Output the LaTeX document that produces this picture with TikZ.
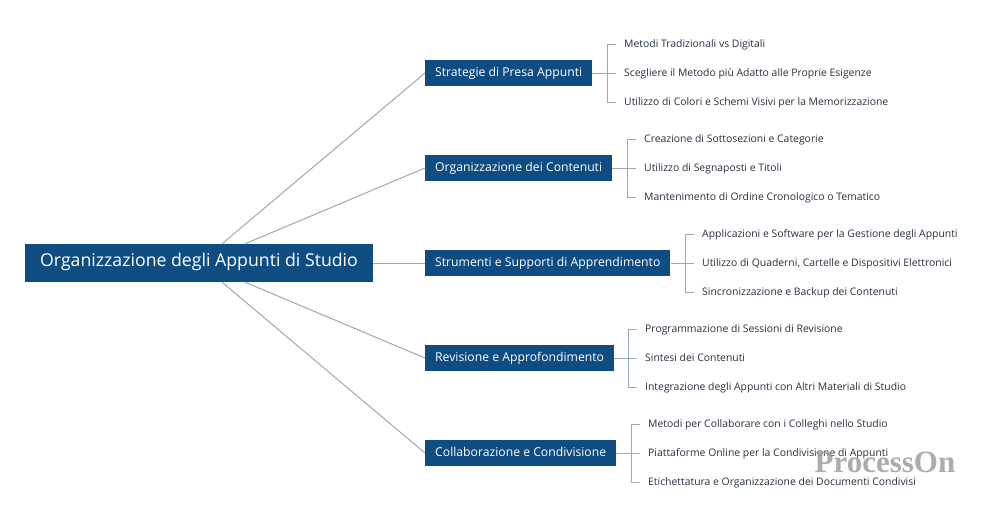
\documentclass[tikz,border=0pt]{standalone}
\usepackage{fontspec}
\setmainfont{Open Sans}
\newfontfamily\wmfont{Liberation Serif}
\definecolor{nodeblue}{RGB}{15,76,129}
\definecolor{linkgray}{RGB}{150,170,184}
\definecolor{leaftext}{RGB}{40,50,64}
\tikzset{
  rootbox/.style={fill=nodeblue, text=white, minimum height=38pt, minimum width=348pt, inner xsep=14pt, text height=0.7em, text depth=0pt, font=\fontsize{17.7}{19}\selectfont},
  topicbox/.style={fill=nodeblue, text=white, anchor=west, minimum height=26pt, inner xsep=10pt, text height=0.7em, text depth=0pt, font=\fontsize{12.2}{14}\selectfont},
  leaf/.style={anchor=west, inner xsep=8pt, inner ysep=2pt, text height=0.7em, text depth=0pt, text=leaftext, font=\fontsize{10.4}{12}\selectfont},
  link/.style={draw=linkgray, line width=1pt}
}
\begin{document}
\begin{tikzpicture}[x=1pt, y=-1pt]
\useasboundingbox (0, 0) rectangle (1000, 522);
\fill [white] (0, 0) rectangle (1000, 522);

% centro
\node [rootbox] (root) at (199, 263) {Organizzazione degli Appunti di Studio};

% rami
\node [topicbox] (b1) at (425, 73) {Strategie di Presa Appunti};
\node [topicbox] (b2) at (425, 168) {Organizzazione dei Contenuti};
\node [topicbox] (b3) at (425, 263) {Strumenti e Supporti di Apprendimento};
\node [topicbox] (b4) at (425, 358) {Revisione e Approfondimento};
\node [topicbox] (b5) at (425, 453) {Collaborazione e Condivisione};

\draw [link] ([xshift=23pt]root.north) -- (b1.west);
\draw [link] ([xshift=46pt]root.north) -- (b2.west);
\draw [link] (root.east) -- (b3.west);
\draw [link] ([xshift=46pt]root.south) -- (b4.west);
\draw [link] ([xshift=23pt]root.south) -- (b5.west);

% foglie
\node [leaf] (l11) at (616, 44) {Metodi Tradizionali vs Digitali};
\node [leaf] (l12) at (616, 73) {Scegliere il Metodo più Adatto alle Proprie Esigenze};
\node [leaf] (l13) at (616, 102) {Utilizzo di Colori e Schemi Visivi per la Memorizzazione};
\node [leaf] (l21) at (636, 139) {Creazione di Sottosezioni e Categorie};
\node [leaf] (l22) at (636, 168) {Utilizzo di Segnaposti e Titoli};
\node [leaf] (l23) at (636, 197) {Mantenimento di Ordine Cronologico o Tematico};
\node [leaf] (l31) at (694, 234) {Applicazioni e Software per la Gestione degli Appunti};
\node [leaf] (l32) at (694, 263) {Utilizzo di Quaderni, Cartelle e Dispositivi Elettronici};
\node [leaf] (l33) at (694, 292) {Sincronizzazione e Backup dei Contenuti};
\node [leaf] (l41) at (637, 329) {Programmazione di Sessioni di Revisione};
\node [leaf] (l42) at (637, 358) {Sintesi dei Contenuti};
\node [leaf] (l43) at (637, 387) {Integrazione degli Appunti con Altri Materiali di Studio};
\node [leaf] (l51) at (640, 424) {Metodi per Collaborare con i Colleghi nello Studio};
\node [leaf] (l52) at (640, 453) {Piattaforme Online per la Condivisione di Appunti};
\node [leaf] (l53) at (640, 482) {Etichettatura e Organizzazione dei Documenti Condivisi};

\coordinate (j1) at (607, 73);
\coordinate (j2) at (627, 168);
\coordinate (j3) at (685, 263);
\coordinate (j4) at (628, 358);
\coordinate (j5) at (631, 453);

\foreach \i in {1, 2, 3, 4, 5}{
  \draw [link] (b\i.east) -- (j\i);
  \draw [link] (j\i) |- (l\i1.west);
  \draw [link] (j\i) -- (l\i2.west);
  \draw [link] (j\i) |- (l\i3.west);
}

% filigrana
\node [text=black!38, opacity=0.85, font=\wmfont\bfseries\fontsize{31}{33}\selectfont] (wm) at (885, 462) {ProcessOn};
\end{tikzpicture}
\end{document}
